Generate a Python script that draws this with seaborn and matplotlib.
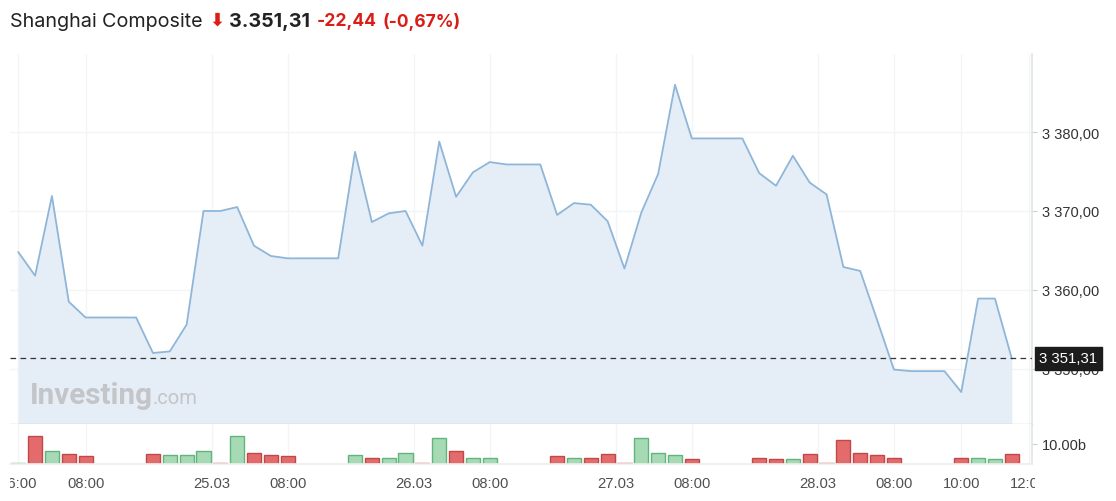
import numpy as np
import pandas as pd
import matplotlib
matplotlib.use("Agg")
import matplotlib.pyplot as plt
import matplotlib.transforms as mtransforms
from matplotlib.ticker import FuncFormatter, FixedLocator
import seaborn as sns

# ---------------- data ----------------
price = [3364.8, 3361.8, 3371.9, 3358.5, 3356.5, 3356.5, 3356.5, 3356.5, 3352.0, 3352.2,
         3355.6, 3370.0, 3370.0, 3370.5, 3365.6, 3364.3, 3364.0, 3364.0, 3364.0, 3364.0,
         3377.5, 3368.6, 3369.7, 3370.0, 3365.6, 3378.8, 3371.8, 3374.9, 3376.2, 3375.9,
         3375.9, 3375.9, 3369.5, 3371.0, 3370.8, 3368.7, 3362.7, 3369.8, 3374.7, 3386.0,
         3379.2, 3379.2, 3379.2, 3379.2, 3374.8, 3373.2, 3377.0, 3373.6, 3372.1, 3362.9,
         3362.4, 3356.2, 3349.9, 3349.7, 3349.7, 3349.7, 3347.05, 3358.9, 3358.9, 3351.31]

volume_b = [0.7, 13.8, 6.3, 5.0, 3.8, None, None, None, 5.0, 4.5,
            4.5, 6.3, 0.7, 13.8, 5.7, 4.5, 3.8, None, None, None,
            4.5, 3.2, 3.2, 5.7, 0.7, 13.0, 6.3, 3.2, 3.2, None,
            None, None, 3.8, 3.0, 3.0, 5.0, 0.7, 13.0, 5.7, 4.5,
            2.5, None, None, None, 3.0, 2.5, 2.5, 5.0, 0.7, 11.8,
            5.7, 4.5, 3.2, None, None, None, 3.2, 3.2, 2.5, 5.0]

direction = ["up", "down", "up", "down", "down", "", "", "", "down", "up",
             "up", "up", "down", "up", "down", "down", "down", "", "", "",
             "up", "down", "up", "up", "down", "up", "down", "up", "up", "",
             "", "", "down", "up", "down", "down", "down", "up", "up", "up",
             "down", "", "", "", "down", "down", "up", "down", "down", "down",
             "down", "down", "down", "", "", "", "down", "up", "up", "down"]

tick_index = [0, 4, 11.5, 16, 23.5, 28, 35.5, 40, 47.5, 52, 56, 60]
tick_labels = ["06:00", "08:00", "25.03", "08:00", "26.03", "08:00", "27.03",
               "08:00", "28.03", "08:00", "10:00", "12:00"]

price_ticks = [3350, 3360, 3370, 3380]
last_price = 3351.31
volume_tick = [10.0]

title_name = "Shanghai Composite"
title_last = "3.351,31"
title_chg = "-22,44"
title_pct = "(-0,67%)"

# ---------------- style ----------------
W, H = 1116, 502
sns.set_theme(style="white")
plt.rcParams["font.family"] = ["Liberation Sans", "DejaVu Sans"]

LINE = "#8fb6d8"
FILL = "#e5eef6"
GRID = "#f2f4f6"
TXT = "#333333"
RED = "#d91e18"
UP_FACE, UP_EDGE = "#a6dab5", "#62b37e"
DN_FACE, DN_EDGE = "#e36b6b", "#c24848"
PX = 72 / 100  # points per pixel

fig = plt.figure(figsize=(W / 100, H / 100), dpi=100)
fig.patch.set_facecolor("white")


def frac_box(x0, y0, x1, y1):
    return [x0 / W, 1 - y1 / H, (x1 - x0) / W, (y1 - y0) / H]


ax = fig.add_axes(frac_box(10, 55, 1032, 425))
axv = fig.add_axes(frac_box(10, 425, 1032, 465), sharex=ax)

idx = np.arange(len(price))
df = pd.DataFrame({"idx": idx, "price": price, "vol": volume_b, "dir": direction})

ymin, ymax = 3343.0, 3389.9
ax.fill_between(df["idx"], df["price"], ymin, color=FILL, lw=0, zorder=1)
sns.lineplot(data=df, x="idx", y="price", ax=ax, color=LINE, lw=1.3, zorder=3)
ax.set_ylim(ymin, ymax)
ax.set_xlim(-0.49, 60.2)

fmt_price = lambda v, p=None: f"{v:,.2f}".replace(",", " ").replace(".", ",")
ax.set_yticks(price_ticks)
ax.yaxis.tick_right()
ax.yaxis.set_major_formatter(FuncFormatter(fmt_price))
ax.tick_params(axis="y", length=5 * PX, width=0.8, color="#cfcfcf", pad=5 * PX,
               labelsize=10.5, labelcolor=TXT, right=True, left=False)
ax.grid(True, axis="both", color=GRID, lw=0.9)
ax.set_axisbelow(True)
ax.set_xlabel("")
ax.set_ylabel("")
for s in ["top", "left"]:
    ax.spines[s].set_visible(False)
ax.spines["bottom"].set_color("#cccccc")
ax.spines["bottom"].set_linewidth(1.0)
ax.spines["right"].set_color("#e3e6ea")

# last price dashed line and box
ax.axhline(last_price, color="#333333", lw=0.9, ls=(0, (4.5, 3.5)), zorder=4)
blend = mtransforms.blended_transform_factory(ax.transAxes, ax.transData)
ax.text(1.0, last_price, fmt_price(last_price),
        transform=blend + mtransforms.ScaledTranslation(7 / 100, 0, fig.dpi_scale_trans),
        ha="left", va="center", color="white", fontsize=10.8, zorder=10, clip_on=False,
        bbox=dict(boxstyle="square,pad=0.3", fc="#1c1c1c", ec="#1c1c1c"))

# watermark
ax.text(20 / 1022, (425 - 396) / 370, "Investing", transform=ax.transAxes,
        fontsize=21.3, fontweight="bold", color="#c3c5c8", ha="left", va="center",
        family=["Roboto", "DejaVu Sans"], zorder=2)
ax.text(143 / 1022, (425 - 398) / 370, ".com", transform=ax.transAxes,
        fontsize=14.5, color="#c3c5c8", ha="left", va="center",
        family=["Roboto", "DejaVu Sans"], zorder=2)

# volume bars
dv = df.dropna(subset=["vol"])
up = dv[dv["dir"] == "up"]
dn = dv[dv["dir"] == "down"]
sns.barplot(data=up, x="idx", y="vol", ax=axv, native_scale=True, color=UP_FACE,
            edgecolor=UP_EDGE, linewidth=1.0, width=0.84, errorbar=None, saturation=1)
sns.barplot(data=dn, x="idx", y="vol", ax=axv, native_scale=True, color=DN_FACE,
            edgecolor=DN_EDGE, linewidth=1.0, width=0.84, errorbar=None, saturation=1)
axv.set_ylim(0, 20)
axv.set_xlim(-0.49, 60.2)
axv.set_yticks(volume_tick)
axv.yaxis.tick_right()
axv.yaxis.set_major_formatter(FuncFormatter(lambda v, p: f"{v:.2f}b"))
axv.tick_params(axis="y", length=5 * PX, width=0.8, color="#cfcfcf", pad=5 * PX,
                labelsize=10.5, labelcolor=TXT, right=True, left=False)
axv.xaxis.set_major_locator(FixedLocator(tick_index))
axv.set_xticklabels(tick_labels)
axv.tick_params(axis="x", length=0, pad=9, labelsize=10.6, labelcolor="#505050")
axv.grid(True, axis="x", color=GRID, lw=0.9)
axv.set_axisbelow(True)
axv.set_xlabel("")
axv.set_ylabel("")
for s in ["top", "left"]:
    axv.spines[s].set_visible(False)
axv.spines["bottom"].set_color("#eeeeee")
axv.spines["right"].set_color("#e3e6ea")
ax.set_xticks(tick_index)
ax.tick_params(axis="x", which="both", bottom=False, labelbottom=False)

clip = mtransforms.TransformedBbox(mtransforms.Bbox.from_extents(10 / W, 0, 1035 / W, 1),
                                   fig.transFigure)
for lbl in axv.get_xticklabels():
    lbl.set_clip_box(clip)
    lbl.set_clip_on(True)

# title
tfam = ["Inter", "DejaVu Sans"]
fig.text(10 / W, 1 - 22 / H, title_name, fontsize=14.2, color="#222222", ha="left",
         va="center", family=tfam)
fig.text(209 / W, 1 - 21 / H, "\u2B07", fontsize=13, fontweight="bold", color=RED,
         ha="left", va="center", family=["DejaVu Sans"])
fig.text(229 / W, 1 - 22 / H, title_last, fontsize=14.2, fontweight="bold", color="#222222",
         ha="left", va="center", family=tfam)
fig.text(317 / W, 1 - 22 / H, title_chg, fontsize=12.6, fontweight="bold", color=RED,
         ha="left", va="center", family=tfam)
fig.text(383 / W, 1 - 22 / H, title_pct, fontsize=12.6, fontweight="bold", color=RED,
         ha="left", va="center", family=tfam)

fig.savefig("out.png", dpi=100, facecolor="white")
